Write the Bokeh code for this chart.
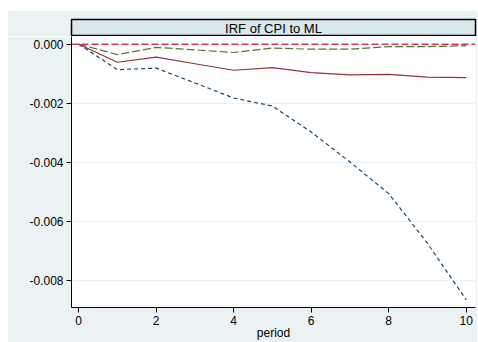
from bokeh.plotting import figure
from bokeh.models import Range1d, FixedTicker, NumeralTickFormatter, Label, Span
from bokeh.layouts import column
from bokeh.embed import file_html
from bokeh.resources import INLINE

# ---- data ----
period = [0, 1, 2, 3, 4, 5, 6, 7, 8, 9, 10]
irf = [0, -0.00061, -0.00044, -0.00066, -0.00088, -0.00079, -0.00096, -0.00104, -0.00102, -0.00111, -0.00113]
lower = [0, -0.00086, -0.00081, -0.00131, -0.00182, -0.00209, -0.00297, -0.00398, -0.00505, -0.00673, -0.00864]
upper = [0, -0.00035, -0.00011, -0.00019, -0.00028, -0.00013, -0.00017, -0.00017, -0.00008, -0.00008, -0.00005]
y_ticks = [0, -0.002, -0.004, -0.006, -0.008]
x_ticks = [0, 2, 4, 6, 8, 10]
title_text = "IRF of CPI to ML"
x_label = "period"

BG = "#eaf2f3"
FONT = "Liberation Sans"

# ---- title strip ----
t = figure(width=470, height=26, output_backend="svg", toolbar_location=None,
           x_range=Range1d(0, 1), y_range=Range1d(0, 1),
           x_axis_location=None, y_axis_location=None,
           min_border_left=64, min_border_right=2, min_border_top=9, min_border_bottom=0)
t.grid.visible = False
t.border_fill_color = BG
t.background_fill_color = "#d9e6eb"
t.outline_line_color = "#000000"
t.outline_line_width = 1.5
t.add_layout(Label(x=0.5, y=0.5, text=title_text, text_align="center", text_baseline="middle",
                   text_font=FONT, text_font_size="13px", text_color="#000000"))

# ---- main plot ----
p = figure(width=470, height=306, output_backend="svg", toolbar_location=None,
           x_range=Range1d(-0.185, 10.24), y_range=Range1d(-0.0089, 0.00026),
           min_border_left=64, min_border_right=1, min_border_top=0, min_border_bottom=34)
p.border_fill_color = BG
p.background_fill_color = "#ffffff"
p.outline_line_color = None
p.xgrid.visible = False
p.ygrid.grid_line_color = BG
p.ygrid.grid_line_width = 1

p.xaxis.ticker = FixedTicker(ticks=x_ticks)
p.yaxis.ticker = FixedTicker(ticks=y_ticks)
p.yaxis.formatter = NumeralTickFormatter(format="0.000")
p.xaxis.axis_label = x_label
for ax in (p.xaxis, p.yaxis):
    ax.axis_line_color = "#000000"
    ax.axis_line_width = 1
    ax.major_tick_line_color = "#000000"
    ax.major_tick_out = 5
    ax.major_tick_in = 0
    ax.minor_tick_line_color = None
    ax.major_label_text_font = FONT
    ax.major_label_text_font_size = "12px"
    ax.major_label_text_color = "#000000"
    ax.axis_label_text_font = FONT
    ax.axis_label_text_font_size = "12px"
    ax.axis_label_text_font_style = "normal"
    ax.axis_label_text_color = "#000000"
p.xaxis.major_label_standoff = 3
p.xaxis.axis_label_standoff = -2
p.yaxis.major_label_standoff = 3

p.add_layout(Span(location=0, dimension="width", line_color="#d9345c", line_width=1.5, line_dash="7 3"))
p.line(period, lower, line_color="#1a476f", line_width=1.2, line_dash="4 3")
p.line(period, upper, line_color="#55752f", line_width=1.2, line_dash="8 3")
p.line(period, irf, line_color="#90353b", line_width=1.2)

layout = column(t, p, spacing=0, margin=(10, 1, 0, 7), background="#ffffff")
open("out.html", "w").write(file_html(layout, INLINE))
